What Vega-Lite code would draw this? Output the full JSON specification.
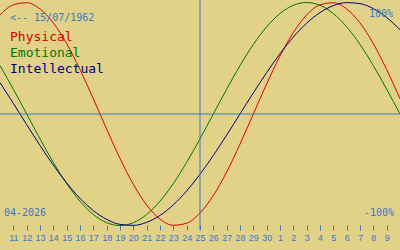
{
  "$schema": "https://vega.github.io/schema/vega-lite/v6.json",
  "width": 400,
  "height": 250,
  "padding": 0,
  "autosize": {"type": "none"},
  "background": "#e1d287",
  "config": {"view": {"stroke": null}},
  "resolve": {"axis": {"x": "independent", "y": "independent"}},
  "layer": [
    {
      "data": {"values": [
      {"day": -15, "cycle": "Physical", "value": 0.8879},
      {"day": -14, "cycle": "Physical", "value": 0.9791},
      {"day": -13, "cycle": "Physical", "value": 0.9977},
      {"day": -12, "cycle": "Physical", "value": 0.9423},
      {"day": -11, "cycle": "Physical", "value": 0.8170},
      {"day": -10, "cycle": "Physical", "value": 0.6311},
      {"day": -9, "cycle": "Physical", "value": 0.3984},
      {"day": -8, "cycle": "Physical", "value": 0.1362},
      {"day": -7, "cycle": "Physical", "value": -0.1362},
      {"day": -6, "cycle": "Physical", "value": -0.3984},
      {"day": -5, "cycle": "Physical", "value": -0.6311},
      {"day": -4, "cycle": "Physical", "value": -0.8170},
      {"day": -3, "cycle": "Physical", "value": -0.9423},
      {"day": -2, "cycle": "Physical", "value": -0.9977},
      {"day": -1, "cycle": "Physical", "value": -0.9791},
      {"day": 0, "cycle": "Physical", "value": -0.8879},
      {"day": 1, "cycle": "Physical", "value": -0.7308},
      {"day": 2, "cycle": "Physical", "value": -0.5196},
      {"day": 3, "cycle": "Physical", "value": -0.2698},
      {"day": 4, "cycle": "Physical", "value": 0},
      {"day": 5, "cycle": "Physical", "value": 0.2698},
      {"day": 6, "cycle": "Physical", "value": 0.5196},
      {"day": 7, "cycle": "Physical", "value": 0.7308},
      {"day": 8, "cycle": "Physical", "value": 0.8879},
      {"day": 9, "cycle": "Physical", "value": 0.9791},
      {"day": 10, "cycle": "Physical", "value": 0.9977},
      {"day": 11, "cycle": "Physical", "value": 0.9423},
      {"day": 12, "cycle": "Physical", "value": 0.8170},
      {"day": 13, "cycle": "Physical", "value": 0.6311},
      {"day": 14, "cycle": "Physical", "value": 0.3984},
      {"day": 15, "cycle": "Physical", "value": 0.1362},
      {"day": -15, "cycle": "Emotional", "value": 0.4339},
      {"day": -14, "cycle": "Emotional", "value": 0.2225},
      {"day": -13, "cycle": "Emotional", "value": 0},
      {"day": -12, "cycle": "Emotional", "value": -0.2225},
      {"day": -11, "cycle": "Emotional", "value": -0.4339},
      {"day": -10, "cycle": "Emotional", "value": -0.6235},
      {"day": -9, "cycle": "Emotional", "value": -0.7818},
      {"day": -8, "cycle": "Emotional", "value": -0.9010},
      {"day": -7, "cycle": "Emotional", "value": -0.9749},
      {"day": -6, "cycle": "Emotional", "value": -1},
      {"day": -5, "cycle": "Emotional", "value": -0.9749},
      {"day": -4, "cycle": "Emotional", "value": -0.9010},
      {"day": -3, "cycle": "Emotional", "value": -0.7818},
      {"day": -2, "cycle": "Emotional", "value": -0.6235},
      {"day": -1, "cycle": "Emotional", "value": -0.4339},
      {"day": 0, "cycle": "Emotional", "value": -0.2225},
      {"day": 1, "cycle": "Emotional", "value": 0},
      {"day": 2, "cycle": "Emotional", "value": 0.2225},
      {"day": 3, "cycle": "Emotional", "value": 0.4339},
      {"day": 4, "cycle": "Emotional", "value": 0.6235},
      {"day": 5, "cycle": "Emotional", "value": 0.7818},
      {"day": 6, "cycle": "Emotional", "value": 0.9010},
      {"day": 7, "cycle": "Emotional", "value": 0.9749},
      {"day": 8, "cycle": "Emotional", "value": 1},
      {"day": 9, "cycle": "Emotional", "value": 0.9749},
      {"day": 10, "cycle": "Emotional", "value": 0.9010},
      {"day": 11, "cycle": "Emotional", "value": 0.7818},
      {"day": 12, "cycle": "Emotional", "value": 0.6235},
      {"day": 13, "cycle": "Emotional", "value": 0.4339},
      {"day": 14, "cycle": "Emotional", "value": 0.2225},
      {"day": 15, "cycle": "Emotional", "value": 0},
      {"day": -15, "cycle": "Intellectual", "value": 0.2817},
      {"day": -14, "cycle": "Intellectual", "value": 0.0951},
      {"day": -13, "cycle": "Intellectual", "value": -0.0951},
      {"day": -12, "cycle": "Intellectual", "value": -0.2817},
      {"day": -11, "cycle": "Intellectual", "value": -0.4582},
      {"day": -10, "cycle": "Intellectual", "value": -0.6182},
      {"day": -9, "cycle": "Intellectual", "value": -0.7557},
      {"day": -8, "cycle": "Intellectual", "value": -0.8660},
      {"day": -7, "cycle": "Intellectual", "value": -0.9450},
      {"day": -6, "cycle": "Intellectual", "value": -0.9898},
      {"day": -5, "cycle": "Intellectual", "value": -0.9989},
      {"day": -4, "cycle": "Intellectual", "value": -0.9718},
      {"day": -3, "cycle": "Intellectual", "value": -0.9096},
      {"day": -2, "cycle": "Intellectual", "value": -0.8146},
      {"day": -1, "cycle": "Intellectual", "value": -0.6901},
      {"day": 0, "cycle": "Intellectual", "value": -0.5406},
      {"day": 1, "cycle": "Intellectual", "value": -0.3717},
      {"day": 2, "cycle": "Intellectual", "value": -0.1893},
      {"day": 3, "cycle": "Intellectual", "value": 0},
      {"day": 4, "cycle": "Intellectual", "value": 0.1893},
      {"day": 5, "cycle": "Intellectual", "value": 0.3717},
      {"day": 6, "cycle": "Intellectual", "value": 0.5406},
      {"day": 7, "cycle": "Intellectual", "value": 0.6901},
      {"day": 8, "cycle": "Intellectual", "value": 0.8146},
      {"day": 9, "cycle": "Intellectual", "value": 0.9096},
      {"day": 10, "cycle": "Intellectual", "value": 0.9718},
      {"day": 11, "cycle": "Intellectual", "value": 0.9989},
      {"day": 12, "cycle": "Intellectual", "value": 0.9898},
      {"day": 13, "cycle": "Intellectual", "value": 0.9450},
      {"day": 14, "cycle": "Intellectual", "value": 0.8660},
      {"day": 15, "cycle": "Intellectual", "value": 0.7557}
      ]},
      "mark": {"type": "line", "interpolate": "monotone", "strokeWidth": 1},
      "encoding": {
        "x": {
          "field": "day",
          "type": "quantitative",
          "scale": {"domain": [-15, 15], "nice": false, "zero": false},
          "axis": {
            "values": [-14, -13, -12, -11, -10, -9, -8, -7, -6, -5, -4, -3, -2, -1, 0, 1, 2, 3, 4, 5, 6, 7, 8, 9, 10, 11, 12, 13, 14],
            "labelExpr": "datum.value + 25 > 30 ? datum.value - 5 : datum.value + 25",
            "orient": "bottom",
            "offset": -25,
            "domain": false,
            "grid": false,
            "tickColor": "#3a78c8",
            "tickSize": 5,
            "tickWidth": 1,
            "labelColor": "#3a78c8",
            "labelFont": "Liberation Sans",
            "labelFontSize": 9,
            "labelPadding": 3,
            "labelFlush": false,
            "labelOverlap": false,
            "title": null
          }
        },
        "y": {
          "field": "value",
          "type": "quantitative",
          "scale": {"domain": [-1.2197, 1.0224], "nice": false, "zero": false},
          "axis": null
        },
        "color": {
          "field": "cycle",
          "type": "nominal",
          "scale": {"domain": ["Physical", "Emotional", "Intellectual"], "range": ["#dd0000", "#007700", "#000080"]},
          "legend": {
            "title": null,
            "orient": "none",
            "legendX": -3,
            "legendY": 30,
            "padding": 0,
            "symbolSize": 0,
            "symbolStrokeWidth": 0,
            "symbolOpacity": 0,
            "labelOffset": 0,
            "labelFont": "DejaVu Sans Mono",
            "labelFontSize": 13,
            "labelLimit": 300,
            "rowPadding": 2,
            "labelColor": {"expr": "scale('color', datum.value)"}
          }
        }
      }
    },
    {
      "data": {"values": [{}]},
      "mark": {"type": "rule", "color": "#3a78c8", "strokeWidth": 1},
      "encoding": {
        "y": {"datum": 0, "type": "quantitative", "axis": null}
      }
    },
    {
      "data": {"values": [{}]},
      "mark": {"type": "rule", "color": "#3a78c8", "strokeWidth": 1},
      "encoding": {
        "x": {"datum": 0, "type": "quantitative", "axis": null},
        "y": {"datum": 1.0224, "type": "quantitative", "axis": null},
        "y2": {"datum": -1.0404}
      }
    },
    {
      "data": {"values": [{}]},
      "mark": {"type": "text", "align": "left", "baseline": "alphabetic", "font": "DejaVu Sans Mono", "fontSize": 10, "color": "#3a78c8"},
      "encoding": {
        "x": {"datum": -14.25, "type": "quantitative", "axis": null},
        "y": {"datum": 0.8296, "type": "quantitative", "axis": null},
        "text": {"value": "<-- 15/07/1962"}
      }
    },
    {
      "data": {"values": [{}]},
      "mark": {"type": "text", "align": "right", "baseline": "alphabetic", "font": "DejaVu Sans Mono", "fontSize": 10, "color": "#3a78c8"},
      "encoding": {
        "x": {"datum": 14.475, "type": "quantitative", "axis": null},
        "y": {"datum": 0.8744, "type": "quantitative", "axis": null},
        "text": {"value": "100%"}
      }
    },
    {
      "data": {"values": [{}]},
      "mark": {"type": "text", "align": "left", "baseline": "alphabetic", "font": "DejaVu Sans Mono", "fontSize": 10, "color": "#3a78c8"},
      "encoding": {
        "x": {"datum": -14.7, "type": "quantitative", "axis": null},
        "y": {"datum": -0.9148, "type": "quantitative", "axis": null},
        "text": {"value": "04-2026"}
      }
    },
    {
      "data": {"values": [{}]},
      "mark": {"type": "text", "align": "right", "baseline": "alphabetic", "font": "DejaVu Sans Mono", "fontSize": 10, "color": "#3a78c8"},
      "encoding": {
        "x": {"datum": 14.55, "type": "quantitative", "axis": null},
        "y": {"datum": -0.9148, "type": "quantitative", "axis": null},
        "text": {"value": "-100%"}
      }
    }
  ]
}
